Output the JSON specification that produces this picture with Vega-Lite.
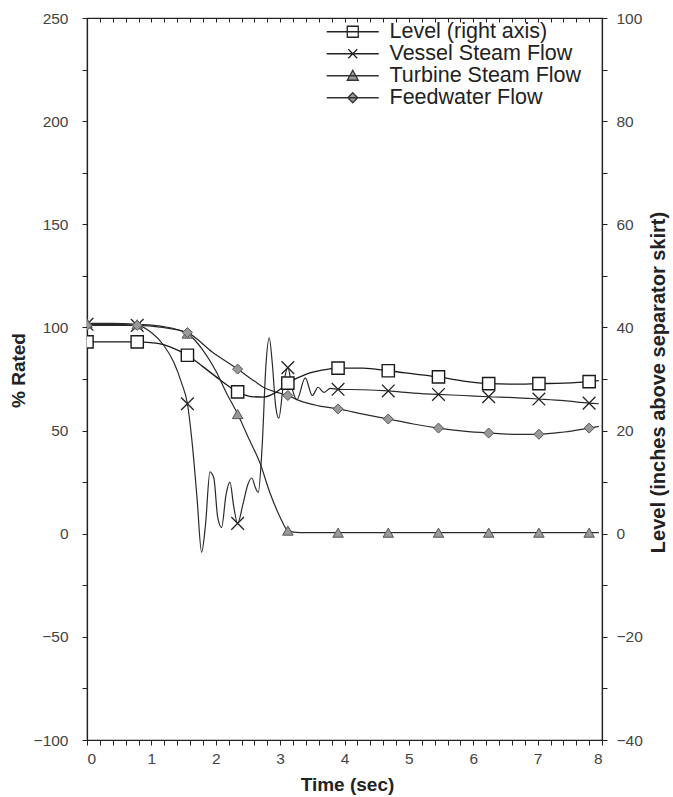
{
  "$schema": "https://vega.github.io/schema/vega-lite/v6.json",
  "width": 515,
  "height": 722,
  "autosize": {"type": "none"},
  "padding": {"left": 87, "top": 18, "right": 71, "bottom": 57},
  "config": {
    "view": {"stroke": "#222", "strokeWidth": 1.2},
    "font": "Liberation Sans",
    "axis": {
      "grid": false,
      "domainColor": "#222",
      "domainWidth": 1.2,
      "tickColor": "#222",
      "tickWidth": 1,
      "tickSize": 5,
      "tickCount": 200,
      "labelOverlap": false,
      "labelFont": "Liberation Sans",
      "labelFontSize": 15.5,
      "labelColor": "#444",
      "titleFont": "Liberation Sans",
      "titleFontSize": 19,
      "titleFontWeight": "bold",
      "titleColor": "#222"
    }
  },
  "datasets": {
    "flows": [
      {"series": "Vessel Steam Flow", "t": 0, "v": 101.5},
      {"series": "Vessel Steam Flow", "t": 0.39, "v": 101.5},
      {"series": "Vessel Steam Flow", "t": 0.78, "v": 101},
      {"series": "Vessel Steam Flow", "t": 1.0, "v": 97.5},
      {"series": "Vessel Steam Flow", "t": 1.2, "v": 91},
      {"series": "Vessel Steam Flow", "t": 1.35, "v": 83},
      {"series": "Vessel Steam Flow", "t": 1.47, "v": 73},
      {"series": "Vessel Steam Flow", "t": 1.56, "v": 63},
      {"series": "Vessel Steam Flow", "t": 1.64, "v": 42},
      {"series": "Vessel Steam Flow", "t": 1.71, "v": 17},
      {"series": "Vessel Steam Flow", "t": 1.78, "v": -9},
      {"series": "Vessel Steam Flow", "t": 1.84, "v": 4},
      {"series": "Vessel Steam Flow", "t": 1.91, "v": 30},
      {"series": "Vessel Steam Flow", "t": 1.97, "v": 27},
      {"series": "Vessel Steam Flow", "t": 2.03, "v": 8},
      {"series": "Vessel Steam Flow", "t": 2.09, "v": 3},
      {"series": "Vessel Steam Flow", "t": 2.16, "v": 19},
      {"series": "Vessel Steam Flow", "t": 2.22, "v": 25},
      {"series": "Vessel Steam Flow", "t": 2.28, "v": 13},
      {"series": "Vessel Steam Flow", "t": 2.34, "v": 5},
      {"series": "Vessel Steam Flow", "t": 2.42, "v": 14},
      {"series": "Vessel Steam Flow", "t": 2.5, "v": 24},
      {"series": "Vessel Steam Flow", "t": 2.56, "v": 27},
      {"series": "Vessel Steam Flow", "t": 2.62, "v": 22},
      {"series": "Vessel Steam Flow", "t": 2.66, "v": 20},
      {"series": "Vessel Steam Flow", "t": 2.72, "v": 42},
      {"series": "Vessel Steam Flow", "t": 2.78, "v": 82},
      {"series": "Vessel Steam Flow", "t": 2.83, "v": 95},
      {"series": "Vessel Steam Flow", "t": 2.88, "v": 82},
      {"series": "Vessel Steam Flow", "t": 2.93, "v": 62},
      {"series": "Vessel Steam Flow", "t": 2.98, "v": 56},
      {"series": "Vessel Steam Flow", "t": 3.05, "v": 72},
      {"series": "Vessel Steam Flow", "t": 3.12, "v": 80.5},
      {"series": "Vessel Steam Flow", "t": 3.19, "v": 70},
      {"series": "Vessel Steam Flow", "t": 3.26, "v": 65},
      {"series": "Vessel Steam Flow", "t": 3.39, "v": 75.5},
      {"series": "Vessel Steam Flow", "t": 3.5, "v": 67},
      {"series": "Vessel Steam Flow", "t": 3.59, "v": 71},
      {"series": "Vessel Steam Flow", "t": 3.68, "v": 68.5},
      {"series": "Vessel Steam Flow", "t": 3.78, "v": 70.5},
      {"series": "Vessel Steam Flow", "t": 3.9, "v": 70},
      {"series": "Vessel Steam Flow", "t": 4.29, "v": 69.8},
      {"series": "Vessel Steam Flow", "t": 4.68, "v": 69.2},
      {"series": "Vessel Steam Flow", "t": 5.07, "v": 68.2},
      {"series": "Vessel Steam Flow", "t": 5.46, "v": 67.5},
      {"series": "Vessel Steam Flow", "t": 5.85, "v": 67},
      {"series": "Vessel Steam Flow", "t": 6.24, "v": 66.4},
      {"series": "Vessel Steam Flow", "t": 6.63, "v": 66},
      {"series": "Vessel Steam Flow", "t": 7.02, "v": 65.3},
      {"series": "Vessel Steam Flow", "t": 7.41, "v": 64.5},
      {"series": "Vessel Steam Flow", "t": 7.8, "v": 63.3},
      {"series": "Vessel Steam Flow", "t": 7.95, "v": 63},
      {"series": "Turbine Steam Flow", "t": 0, "v": 102},
      {"series": "Turbine Steam Flow", "t": 0.39, "v": 102},
      {"series": "Turbine Steam Flow", "t": 0.78, "v": 101.5},
      {"series": "Turbine Steam Flow", "t": 1.17, "v": 100.5},
      {"series": "Turbine Steam Flow", "t": 1.56, "v": 97},
      {"series": "Turbine Steam Flow", "t": 1.8, "v": 89},
      {"series": "Turbine Steam Flow", "t": 2.0, "v": 79},
      {"series": "Turbine Steam Flow", "t": 2.17, "v": 68},
      {"series": "Turbine Steam Flow", "t": 2.34, "v": 58},
      {"series": "Turbine Steam Flow", "t": 2.5, "v": 47},
      {"series": "Turbine Steam Flow", "t": 2.69, "v": 34},
      {"series": "Turbine Steam Flow", "t": 2.84, "v": 20},
      {"series": "Turbine Steam Flow", "t": 3.0, "v": 8},
      {"series": "Turbine Steam Flow", "t": 3.12, "v": 1.5},
      {"series": "Turbine Steam Flow", "t": 3.3, "v": 0.5},
      {"series": "Turbine Steam Flow", "t": 3.9, "v": 0.5},
      {"series": "Turbine Steam Flow", "t": 4.68, "v": 0.5},
      {"series": "Turbine Steam Flow", "t": 5.46, "v": 0.5},
      {"series": "Turbine Steam Flow", "t": 6.24, "v": 0.5},
      {"series": "Turbine Steam Flow", "t": 7.02, "v": 0.5},
      {"series": "Turbine Steam Flow", "t": 7.8, "v": 0.5},
      {"series": "Turbine Steam Flow", "t": 7.95, "v": 0.5},
      {"series": "Feedwater Flow", "t": 0, "v": 101},
      {"series": "Feedwater Flow", "t": 0.39, "v": 101},
      {"series": "Feedwater Flow", "t": 0.78, "v": 101},
      {"series": "Feedwater Flow", "t": 1.17, "v": 100},
      {"series": "Feedwater Flow", "t": 1.56, "v": 97.5},
      {"series": "Feedwater Flow", "t": 1.95, "v": 88},
      {"series": "Feedwater Flow", "t": 2.34, "v": 79.8},
      {"series": "Feedwater Flow", "t": 2.6, "v": 74},
      {"series": "Feedwater Flow", "t": 2.77, "v": 70.5},
      {"series": "Feedwater Flow", "t": 2.95, "v": 68.5},
      {"series": "Feedwater Flow", "t": 3.12, "v": 67},
      {"series": "Feedwater Flow", "t": 3.3, "v": 64.5},
      {"series": "Feedwater Flow", "t": 3.6, "v": 62},
      {"series": "Feedwater Flow", "t": 3.9, "v": 60.5},
      {"series": "Feedwater Flow", "t": 4.29, "v": 58},
      {"series": "Feedwater Flow", "t": 4.68, "v": 55.6},
      {"series": "Feedwater Flow", "t": 5.07, "v": 53.2},
      {"series": "Feedwater Flow", "t": 5.46, "v": 51.2},
      {"series": "Feedwater Flow", "t": 5.85, "v": 49.7},
      {"series": "Feedwater Flow", "t": 6.24, "v": 48.8},
      {"series": "Feedwater Flow", "t": 6.63, "v": 48.2},
      {"series": "Feedwater Flow", "t": 7.02, "v": 48.2},
      {"series": "Feedwater Flow", "t": 7.41, "v": 49.3},
      {"series": "Feedwater Flow", "t": 7.8, "v": 51.2},
      {"series": "Feedwater Flow", "t": 7.95, "v": 52}
    ],
    "level": [
      {"t": 0, "v": 37.2},
      {"t": 0.39, "v": 37.2},
      {"t": 0.78, "v": 37.2},
      {"t": 1.1, "v": 36.9},
      {"t": 1.3, "v": 36.2},
      {"t": 1.56, "v": 34.6},
      {"t": 1.8, "v": 32.4},
      {"t": 2.05, "v": 30},
      {"t": 2.34, "v": 27.5},
      {"t": 2.55, "v": 26.6},
      {"t": 2.75, "v": 26.5},
      {"t": 2.92, "v": 27.3},
      {"t": 3.12, "v": 29.2},
      {"t": 3.4, "v": 30.9},
      {"t": 3.65, "v": 31.7},
      {"t": 3.9, "v": 32.1},
      {"t": 4.29, "v": 32.1},
      {"t": 4.68, "v": 31.6},
      {"t": 5.07, "v": 31},
      {"t": 5.46, "v": 30.4},
      {"t": 5.85, "v": 29.6},
      {"t": 6.24, "v": 29.1},
      {"t": 6.63, "v": 29},
      {"t": 7.02, "v": 29.1},
      {"t": 7.41, "v": 29.2},
      {"t": 7.8, "v": 29.5},
      {"t": 7.95, "v": 29.7}
    ]
  },
  "layer": [
    {
      "mark": {"type": "rule", "stroke": "#222", "strokeWidth": 1.2},
      "encoding": {
        "y": {"datum": 0, "type": "quantitative", "scale": {"domain": [-100, 250], "nice": false}, "axis": null}
      }
    },
    {
      "data": {"name": "flows"},
      "encoding": {
        "x": {
          "field": "t", "type": "quantitative",
          "scale": {"domain": [0, 8], "nice": false},
          "axis": {
            "orient": "bottom",
            "values": [0,0.2,0.4,0.6,0.8,1,1.2,1.4,1.6,1.8,2,2.2,2.4,2.6,2.8,3,3.2,3.4,3.6,3.8,4,4.2,4.4,4.6,4.8,5,5.2,5.4,5.6,5.8,6,6.2,6.4,6.6,6.8,7,7.2,7.4,7.6,7.8,8],
            "tickCount": 200,
            "labelExpr": "datum.value % 1 === 0 ? format(datum.value, 'd') : ''",
            "tickSize": 5,
            "labelPadding": 6,
            "title": "Time (sec)",
            "titleX": 260,
            "titleY": 50,
            "titleBaseline": "alphabetic",
            "titleAlign": "center"
          }
        },
        "y": {
          "field": "v", "type": "quantitative",
          "scale": {"domain": [-100, 250], "nice": false},
          "axis": {
            "values": [-100,-75,-50,-25,0,25,50,75,100,125,150,175,200,225,250],
            "tickCount": 200,
            "labelExpr": "datum.value % 50 === 0 ? format(datum.value, 'd') : ''",
            "tickSize": 5,
            "labelPadding": 14,
            "title": "% Rated",
            "titleX": -69,
            "titleY": 352,
            "titleAngle": 270,
            "titleBaseline": "middle",
            "titleAlign": "center"
          }
        }
      },
      "layer": [
        {
          "mark": {"type": "line", "interpolate": "monotone", "stroke": "#2a2a2a", "strokeWidth": 1.2},
          "encoding": {"detail": {"field": "series"}}
        },
        {
          "transform": [
            {"filter": {"field": "series", "equal": "Vessel Steam Flow"}},
            {"filter": {"field": "t", "oneOf": [0,0.78,1.56,2.34,3.12,3.9,4.68,5.46,6.24,7.02,7.8]}}
          ],
          "mark": {"type": "point", "shape": "M-1,-1L1,1M-1,1L1,-1", "filled": false, "stroke": "#222", "strokeWidth": 1.3, "size": 160, "opacity": 1, "clip": true}
        },
        {
          "transform": [
            {"filter": {"field": "series", "equal": "Turbine Steam Flow"}},
            {"filter": {"field": "t", "oneOf": [0,0.78,1.56,2.34,3.12,3.9,4.68,5.46,6.24,7.02,7.8]}}
          ],
          "mark": {"type": "point", "shape": "triangle-up", "filled": true, "fill": "#999", "stroke": "#555", "strokeWidth": 1, "size": 110, "opacity": 1, "clip": true}
        },
        {
          "transform": [
            {"filter": {"field": "series", "equal": "Feedwater Flow"}},
            {"filter": {"field": "t", "oneOf": [0,0.78,1.56,2.34,3.12,3.9,4.68,5.46,6.24,7.02,7.8]}}
          ],
          "mark": {"type": "point", "shape": "diamond", "filled": true, "fill": "#999", "stroke": "#555", "strokeWidth": 1, "size": 100, "opacity": 1, "clip": true}
        },
        {
          "transform": [{"filter": "datum.t > 100"}],
          "mark": {"type": "point", "filled": true, "strokeWidth": 1.3, "opacity": 1},
          "encoding": {
            "color": {
              "field": "series", "type": "nominal",
              "scale": {"domain": ["Level (right axis)", "Vessel Steam Flow", "Turbine Steam Flow", "Feedwater Flow"], "range": ["transparent", "transparent", "#999", "#999"]},
              "legend": {"title": null, "orient": "none", "legendX": 255, "legendY": 3, "symbolSize": 100, "symbolStrokeWidth": 1.3, "symbolStrokeColor": "#222", "symbolOpacity": 1, "labelFont": "Liberation Sans", "labelFontSize": 21.5, "labelColor": "#222", "labelOffset": 26, "rowPadding": -2, "padding": 0, "labelLimit": 400}
            },
            "stroke": {
              "field": "series", "type": "nominal",
              "scale": {"domain": ["Level (right axis)", "Vessel Steam Flow", "Turbine Steam Flow", "Feedwater Flow"], "range": ["#222", "#222", "#333", "#333"]},
              "legend": {"title": null, "orient": "none", "legendX": 255, "legendY": 3, "symbolSize": 100, "symbolStrokeWidth": 1.3, "symbolStrokeColor": "#222", "symbolOpacity": 1, "labelFont": "Liberation Sans", "labelFontSize": 21.5, "labelColor": "#222", "labelOffset": 26, "rowPadding": -2, "padding": 0, "labelLimit": 400}
            },
            "shape": {
              "field": "series", "type": "nominal",
              "scale": {"domain": ["Level (right axis)", "Vessel Steam Flow", "Turbine Steam Flow", "Feedwater Flow"], "range": ["M-5.2,0H5.2M-1.1,-1.1H1.1V1.1H-1.1Z", "M-5.2,0H5.2M-0.9,-0.9L0.9,0.9M-0.9,0.9L0.9,-0.9", "M-5.2,0H5.2M0,-1.1L1.1,0.9L-1.1,0.9Z", "M-5.2,0H5.2M0,-1L1,0L0,1L-1,0Z"]},
              "legend": {"title": null, "orient": "none", "legendX": 255, "legendY": 3, "symbolSize": 100, "symbolStrokeWidth": 1.3, "symbolStrokeColor": "#222", "symbolOpacity": 1, "labelFont": "Liberation Sans", "labelFontSize": 21.5, "labelColor": "#222", "labelOffset": 26, "rowPadding": -2, "padding": 0, "labelLimit": 400}
            }
          }
        }
      ]
    },
    {
      "data": {"name": "level"},
      "encoding": {
        "x": {
          "field": "t", "type": "quantitative",
          "scale": {"domain": [0, 8], "nice": false},
          "axis": {
            "orient": "top",
            "values": [0,0.2,0.4,0.6,0.8,1,1.2,1.4,1.6,1.8,2,2.2,2.4,2.6,2.8,3,3.2,3.4,3.6,3.8,4,4.2,4.4,4.6,4.8,5,5.2,5.4,5.6,5.8,6,6.2,6.4,6.6,6.8,7,7.2,7.4,7.6,7.8,8],
            "tickCount": 200,
            "labels": false,
            "tickSize": -4,
            "title": null
          }
        },
        "y": {
          "field": "v", "type": "quantitative",
          "scale": {"domain": [-40, 100], "nice": false},
          "axis": {
            "orient": "right",
            "values": [-40,-30,-20,-10,0,10,20,30,40,50,60,70,80,90,100],
            "tickCount": 200,
            "labelExpr": "datum.value % 20 === 0 ? format(datum.value, 'd') : ''",
            "tickSize": 5,
            "labelPadding": 9,
            "title": "Level (inches above separator skirt)",
            "titleFontSize": 20,
            "titleX": 56,
            "titleY": 364,
            "titleAngle": 270,
            "titleBaseline": "middle",
            "titleAlign": "center"
          }
        }
      },
      "layer": [
        {
          "mark": {"type": "line", "interpolate": "monotone", "stroke": "#1a1a1a", "strokeWidth": 1.3}
        },
        {
          "transform": [
            {"filter": {"field": "t", "oneOf": [0,0.78,1.56,2.34,3.12,3.9,4.68,5.46,6.24,7.02,7.8]}}
          ],
          "mark": {"type": "point", "shape": "square", "filled": true, "fill": "white", "stroke": "#1a1a1a", "strokeWidth": 1.4, "size": 150, "opacity": 1, "clip": true}
        }
      ]
    }
  ],
  "resolve": {"scale": {"y": "independent"}, "axis": {"x": "independent"}}
}
